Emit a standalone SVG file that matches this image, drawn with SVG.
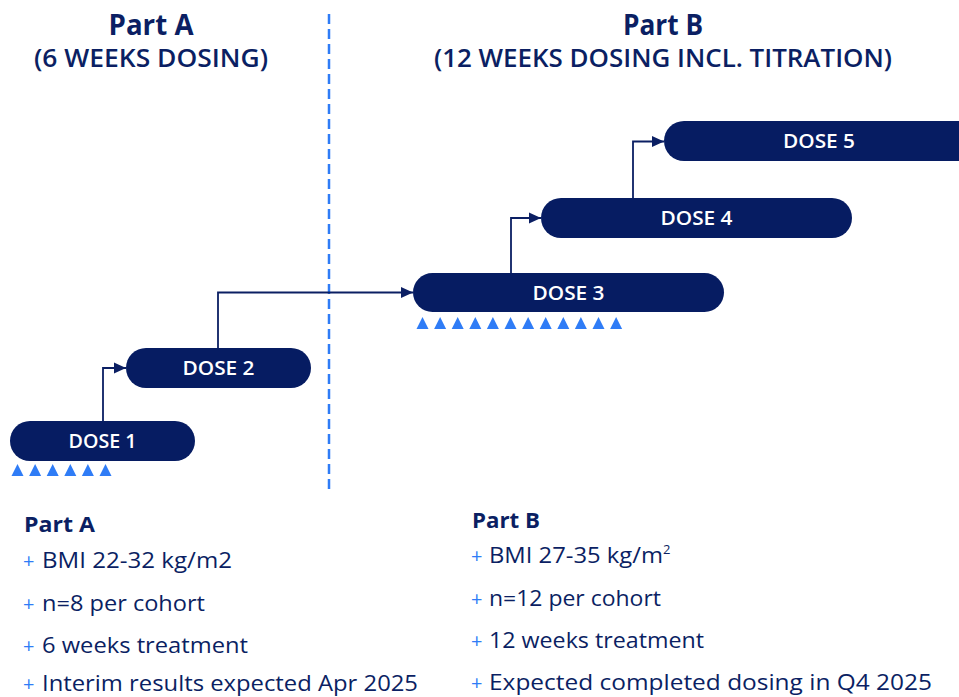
<svg xmlns="http://www.w3.org/2000/svg" width="959" height="697" viewBox="0 0 959 697">
<style>
.hd{font-family:"Open Sans","Liberation Sans",sans-serif;fill:#0b1f63;text-anchor:middle}
.pill{fill:#061c62}
.pt{font-family:"Open Sans","Liberation Sans",sans-serif;font-size:19px;font-weight:600;fill:#ffffff;text-anchor:middle}
.conn{fill:none;stroke:#0b1f63;stroke-width:1.8}
.tri{fill:#2f7cf6}
.bt{font-family:"Open Sans","Liberation Sans",sans-serif;font-size:22.5px;fill:#0b1f63}
.bh{font-family:"Open Sans","Liberation Sans",sans-serif;font-size:21px;font-weight:700;fill:#0b1f63}
.pl{fill:#2f7cf6;font-size:20px}
</style>
<defs>
<marker id="ah" markerUnits="userSpaceOnUse" markerWidth="12" markerHeight="12" viewBox="0 0 12 12" refX="12" refY="6" orient="auto">
<path d="M0 0.5 L12 6 L0 11.5 Z" fill="#0b1f63"/>
</marker>
<path id="t" d="M-6 12 L0 0 L6 12 Z"/>
</defs>
<rect width="959" height="697" fill="#ffffff"/>

<g id="headers">
<text class="hd" x="151" y="35" font-size="28" font-weight="700" textLength="85" lengthAdjust="spacingAndGlyphs">Part A</text>
<text class="hd" x="151" y="67" font-size="24.5" font-weight="600" textLength="234" lengthAdjust="spacingAndGlyphs">(6 WEEKS DOSING)</text>
<text class="hd" x="663" y="35" font-size="28" font-weight="700" textLength="80" lengthAdjust="spacingAndGlyphs">Part B</text>
<text class="hd" x="663" y="67" font-size="24.5" font-weight="600" textLength="458" lengthAdjust="spacingAndGlyphs">(12 WEEKS DOSING INCL. TITRATION)</text>
</g>

<g id="divider">
<line x1="329" y1="14" x2="329" y2="492" stroke="#2f7cf6" stroke-width="2.5" stroke-dasharray="10 5"/>
</g>

<g id="connectors">
<path class="conn" d="M103 421 V368 H126" marker-end="url(#ah)"/>
<path class="conn" d="M218 348 V292.5 H413" marker-end="url(#ah)"/>
<path class="conn" d="M511 273 V218 H541" marker-end="url(#ah)"/>
<path class="conn" d="M633 198 V141.5 H664" marker-end="url(#ah)"/>
</g>

<g id="dose1">
<rect class="pill" x="10" y="421" width="185" height="40" rx="20"/>
<text class="pt" x="102.5" y="448" textLength="68" lengthAdjust="spacingAndGlyphs">DOSE 1</text>
</g>
<g id="dose2">
<rect class="pill" x="126" y="348" width="185" height="40" rx="20"/>
<text class="pt" x="218.5" y="375" textLength="72" lengthAdjust="spacingAndGlyphs">DOSE 2</text>
</g>
<g id="dose3">
<rect class="pill" x="413" y="273" width="311" height="39" rx="19.5"/>
<text class="pt" x="568.5" y="299.5" textLength="72" lengthAdjust="spacingAndGlyphs">DOSE 3</text>
</g>
<g id="dose4">
<rect class="pill" x="541" y="198" width="311" height="40" rx="20"/>
<text class="pt" x="696.5" y="225" textLength="72" lengthAdjust="spacingAndGlyphs">DOSE 4</text>
</g>
<g id="dose5">
<rect class="pill" x="664" y="121" width="330" height="40" rx="20"/>
<text class="pt" x="819" y="148" textLength="72" lengthAdjust="spacingAndGlyphs">DOSE 5</text>
</g>

<g id="markers-a" class="tri">
<use href="#t" x="17.5" y="464"/>
<use href="#t" x="35.1" y="464"/>
<use href="#t" x="52.7" y="464"/>
<use href="#t" x="70.3" y="464"/>
<use href="#t" x="87.9" y="464"/>
<use href="#t" x="105.5" y="464"/>
</g>
<g id="markers-b" class="tri">
<use href="#t" x="422.5" y="317"/>
<use href="#t" x="440.1" y="317"/>
<use href="#t" x="457.7" y="317"/>
<use href="#t" x="475.3" y="317"/>
<use href="#t" x="492.9" y="317"/>
<use href="#t" x="510.5" y="317"/>
<use href="#t" x="528.1" y="317"/>
<use href="#t" x="545.7" y="317"/>
<use href="#t" x="563.3" y="317"/>
<use href="#t" x="580.9" y="317"/>
<use href="#t" x="598.5" y="317"/>
<use href="#t" x="616.1" y="317"/>
</g>

<g id="notes-a">
<text class="bh" x="24" y="532" textLength="71" lengthAdjust="spacingAndGlyphs">Part A</text>
<text class="bt" y="568"><tspan class="pl" x="23">+</tspan><tspan x="42" textLength="190" lengthAdjust="spacingAndGlyphs">BMI 22-32 kg/m2</tspan></text>
<text class="bt" y="611"><tspan class="pl" x="23">+</tspan><tspan x="42" textLength="163" lengthAdjust="spacingAndGlyphs">n=8 per cohort</tspan></text>
<text class="bt" y="653"><tspan class="pl" x="23">+</tspan><tspan x="42" textLength="206" lengthAdjust="spacingAndGlyphs">6 weeks treatment</tspan></text>
<text class="bt" y="691"><tspan class="pl" x="23">+</tspan><tspan x="42" textLength="376" lengthAdjust="spacingAndGlyphs">Interim results expected Apr 2025</tspan></text>
</g>

<g id="notes-b">
<text class="bh" x="472" y="528" textLength="68" lengthAdjust="spacingAndGlyphs">Part B</text>
<text class="bt" y="563"><tspan class="pl" x="471">+</tspan><tspan x="489" textLength="174" lengthAdjust="spacingAndGlyphs">BMI 27-35 kg/m</tspan><tspan font-size="13" dy="-9">2</tspan></text>
<text class="bt" y="606"><tspan class="pl" x="471">+</tspan><tspan x="489" textLength="172" lengthAdjust="spacingAndGlyphs">n=12 per cohort</tspan></text>
<text class="bt" y="648"><tspan class="pl" x="471">+</tspan><tspan x="489" textLength="215" lengthAdjust="spacingAndGlyphs">12 weeks treatment</tspan></text>
<text class="bt" y="690"><tspan class="pl" x="471">+</tspan><tspan x="489" textLength="443" lengthAdjust="spacingAndGlyphs">Expected completed dosing in Q4 2025</tspan></text>
</g>
</svg>
